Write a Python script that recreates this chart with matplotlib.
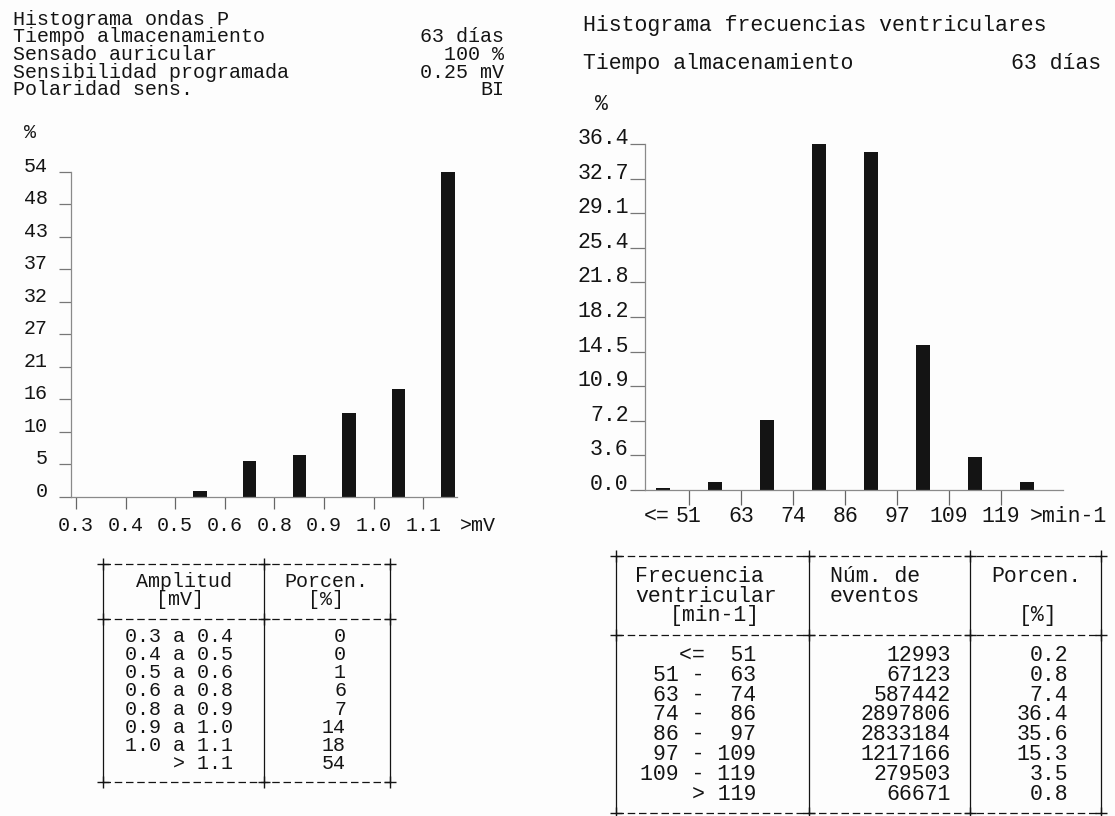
import numpy as np
import matplotlib.pyplot as plt
from matplotlib.transforms import offset_copy

W, H = 1115, 816
MONO = ["Liberation Mono", "DejaVu Sans Mono"]
INK = "#141414"
AXC = "#8a8a8a"
FS_L = 14.4   # left printout (12 px per char)
FS_R = 15.5   # right printout (12.9 px per char)

# ----- P wave amplitude histogram -----
p_header = ["Histograma ondas P", "Tiempo almacenamiento", "Sensado auricular",
            "Sensibilidad programada", "Polaridad sens."]
p_header_vals = ["", "63 días", "100 %", "0.25 mV", "BI"]
p_bins = ["0.3 a 0.4", "0.4 a 0.5", "0.5 a 0.6", "0.6 a 0.8",
          "0.8 a 0.9", "0.9 a 1.0", "1.0 a 1.1", "> 1.1"]
p_pct = [0, 0, 1, 6, 7, 14, 18, 54]
p_xticks = ["0.3", "0.4", "0.5", "0.6", "0.8", "0.9", "1.0", "1.1"]
p_yticks = ["0", "5", "10", "16", "21", "27", "32", "37", "43", "48", "54"]
p_ymax = 54

# ----- ventricular rate histogram -----
v_title = "Histograma frecuencias ventriculares"
v_time = "63 días"
v_bins = ["<=  51", "51 -  63", "63 -  74", "74 -  86", "86 -  97",
          "97 - 109", "109 - 119", "> 119"]
v_events = [12993, 67123, 587442, 2897806, 2833184, 1217166, 279503, 66671]
v_pct = [0.2, 0.8, 7.4, 36.4, 35.6, 15.3, 3.5, 0.8]
v_xticks = ["51", "63", "74", "86", "97", "109", "119"]
v_yticks = ["0.0", "3.6", "7.2", "10.9", "14.5", "18.2", "21.8", "25.4", "29.1", "32.7", "36.4"]
v_ymax = 36.4

plt.rcParams["font.family"] = MONO
plt.rcParams["text.color"] = INK

fig = plt.figure(figsize=(W / 100, H / 100), dpi=100)
fig.patch.set_facecolor("#fdfdfd")

# pixel canvas for all printed text and table frames
bg = fig.add_axes([0, 0, 1, 1])
bg.set_xlim(0, W)
bg.set_ylim(H, 0)
bg.axis("off")


def px_axes(x0, x1, ytop, ybot):
    return fig.add_axes([x0 / W, 1 - ybot / H, (x1 - x0) / W, (ybot - ytop) / H])


def style_axes(ax, fs, xlen, xpad, ylen, ypad):
    for s in ["top", "right"]:
        ax.spines[s].set_visible(False)
    for s in ["left", "bottom"]:
        ax.spines[s].set_color(AXC)
        ax.spines[s].set_linewidth(0.9)
    ax.patch.set_alpha(0)
    ax.tick_params(axis="x", length=xlen, width=0.9, color="#666666", pad=xpad,
                   labelsize=fs, labelcolor=INK)
    ax.tick_params(axis="y", length=ylen, width=0.9, color="#777777", pad=ypad,
                   labelsize=fs, labelcolor=INK)


def frame(xs, ys):
    for y in ys:
        bg.plot([xs[0], xs[-1]], [y, y], color=INK, lw=0.9, ls=(0, (6, 3)))
        bg.plot(xs, [y] * len(xs), ls="none", marker="+", ms=8, mew=1.0, color=INK)
    for x in xs:
        bg.plot([x, x], [ys[0], ys[-1]], color=INK, lw=0.9)


# ================= left: P waves =================
for i, (lab, val) in enumerate(zip(p_header, p_header_vals)):
    yb = 25 + i * 17.5
    bg.text(13, yb, lab, fontsize=FS_L, va="baseline", ha="left")
    if val:
        bg.text(504, yb, val, fontsize=FS_L, va="baseline", ha="right")
bg.text(30, 138, "%", fontsize=FS_L, va="baseline", ha="center")

axL = px_axes(71, 457, 172, 497)
nL = len(p_pct)
axL.bar(np.arange(nL) + 0.5, p_pct, width=0.27, color="#141414")
axL.set_xlim(-0.1, 7.68)
axL.set_ylim(0, p_ymax)
axL.set_xticks(np.arange(nL))
axL.set_xticklabels(p_xticks)
axL.set_yticks(np.linspace(0, p_ymax, len(p_yticks)))
axL.set_yticklabels(p_yticks, va="baseline")
style_axes(axL, FS_L, 8.6, 5, 8.6, 8)
axL.text(8.1, 0, ">mV", fontsize=FS_L, ha="center", va="top", clip_on=False,
         transform=offset_copy(axL.get_xaxis_transform(), fig=fig, y=-13.6, units="points"))

# left table
xl = [103, 264, 390]
yl0, stepL = 564, 18.2
frame(xl, [yl0, yl0 + 3 * stepL, yl0 + 12 * stepL])
bg.text(184, yl0 + 1 * stepL + 5, "Amplitud", fontsize=FS_L, ha="center", va="baseline")
bg.text(180, yl0 + 2 * stepL + 5, "[mV]", fontsize=FS_L, ha="center", va="baseline")
bg.text(326, yl0 + 1 * stepL + 5, "Porcen.", fontsize=FS_L, ha="center", va="baseline")
bg.text(326, yl0 + 2 * stepL + 5, "[%]", fontsize=FS_L, ha="center", va="baseline")
for i, (b, p) in enumerate(zip(p_bins, p_pct)):
    yb = yl0 + (4 + i) * stepL + 5
    bg.text(233, yb, b, fontsize=FS_L, ha="right", va="baseline")
    bg.text(346, yb, str(p), fontsize=FS_L, ha="right", va="baseline")

# ================= right: ventricular rate =================
bg.text(583, 31, v_title, fontsize=FS_R, va="baseline", ha="left")
bg.text(583, 69, "Tiempo almacenamiento", fontsize=FS_R, va="baseline", ha="left")
bg.text(1101, 69, v_time, fontsize=FS_R, va="baseline", ha="right")
bg.text(601, 110, "%", fontsize=FS_R, va="baseline", ha="center")

axR = px_axes(645, 1063, 144, 490)
nR = len(v_pct)
axR.bar(np.arange(nR) + 0.5, v_pct, width=0.26, color="#141414")
axR.set_xlim(0.154, 8.19)
axR.set_ylim(0, v_ymax)
axR.set_xticks(np.arange(1, nR))
axR.set_xticklabels(v_xticks)
axR.set_yticks(np.linspace(0, v_ymax, len(v_yticks)))
axR.set_yticklabels(v_yticks, va="baseline")
style_axes(axR, FS_R, 10.8, 0.5, 10.8, 1)
xlab_tr = offset_copy(axR.get_xaxis_transform(), fig=fig, y=-11.3, units="points")
axR.text(0.38, 0, "<=", fontsize=FS_R, ha="center", va="top", clip_on=False, transform=xlab_tr)
axR.text(7.56, 0, ">min-1", fontsize=FS_R, ha="left", va="top", clip_on=False, transform=xlab_tr)

# right table
xr = [616, 809, 970, 1101]
yr0, stepR = 556, 19.8
frame(xr, [yr0, yr0 + 4 * stepR, yr0 + 13 * stepR])
bg.text(635, yr0 + 1 * stepR + 6, "Frecuencia", fontsize=FS_R, ha="left", va="baseline")
bg.text(635, yr0 + 2 * stepR + 6, "ventricular", fontsize=FS_R, ha="left", va="baseline")
bg.text(670, yr0 + 3 * stepR + 6, "[min-1]", fontsize=FS_R, ha="left", va="baseline")
bg.text(830, yr0 + 1 * stepR + 6, "Núm. de", fontsize=FS_R, ha="left", va="baseline")
bg.text(830, yr0 + 2 * stepR + 6, "eventos", fontsize=FS_R, ha="left", va="baseline")
bg.text(991, yr0 + 1 * stepR + 6, "Porcen.", fontsize=FS_R, ha="left", va="baseline")
bg.text(1019, yr0 + 3 * stepR + 6, "[%]", fontsize=FS_R, ha="left", va="baseline")
for i, (b, n, p) in enumerate(zip(v_bins, v_events, v_pct)):
    yb = yr0 + (5 + i) * stepR + 6
    bg.text(756, yb, b, fontsize=FS_R, ha="right", va="baseline")
    bg.text(951, yb, str(n), fontsize=FS_R, ha="right", va="baseline")
    bg.text(1068, yb, f"{p:.1f}", fontsize=FS_R, ha="right", va="baseline")

fig.savefig("out.png", dpi=100, facecolor=fig.get_facecolor())
